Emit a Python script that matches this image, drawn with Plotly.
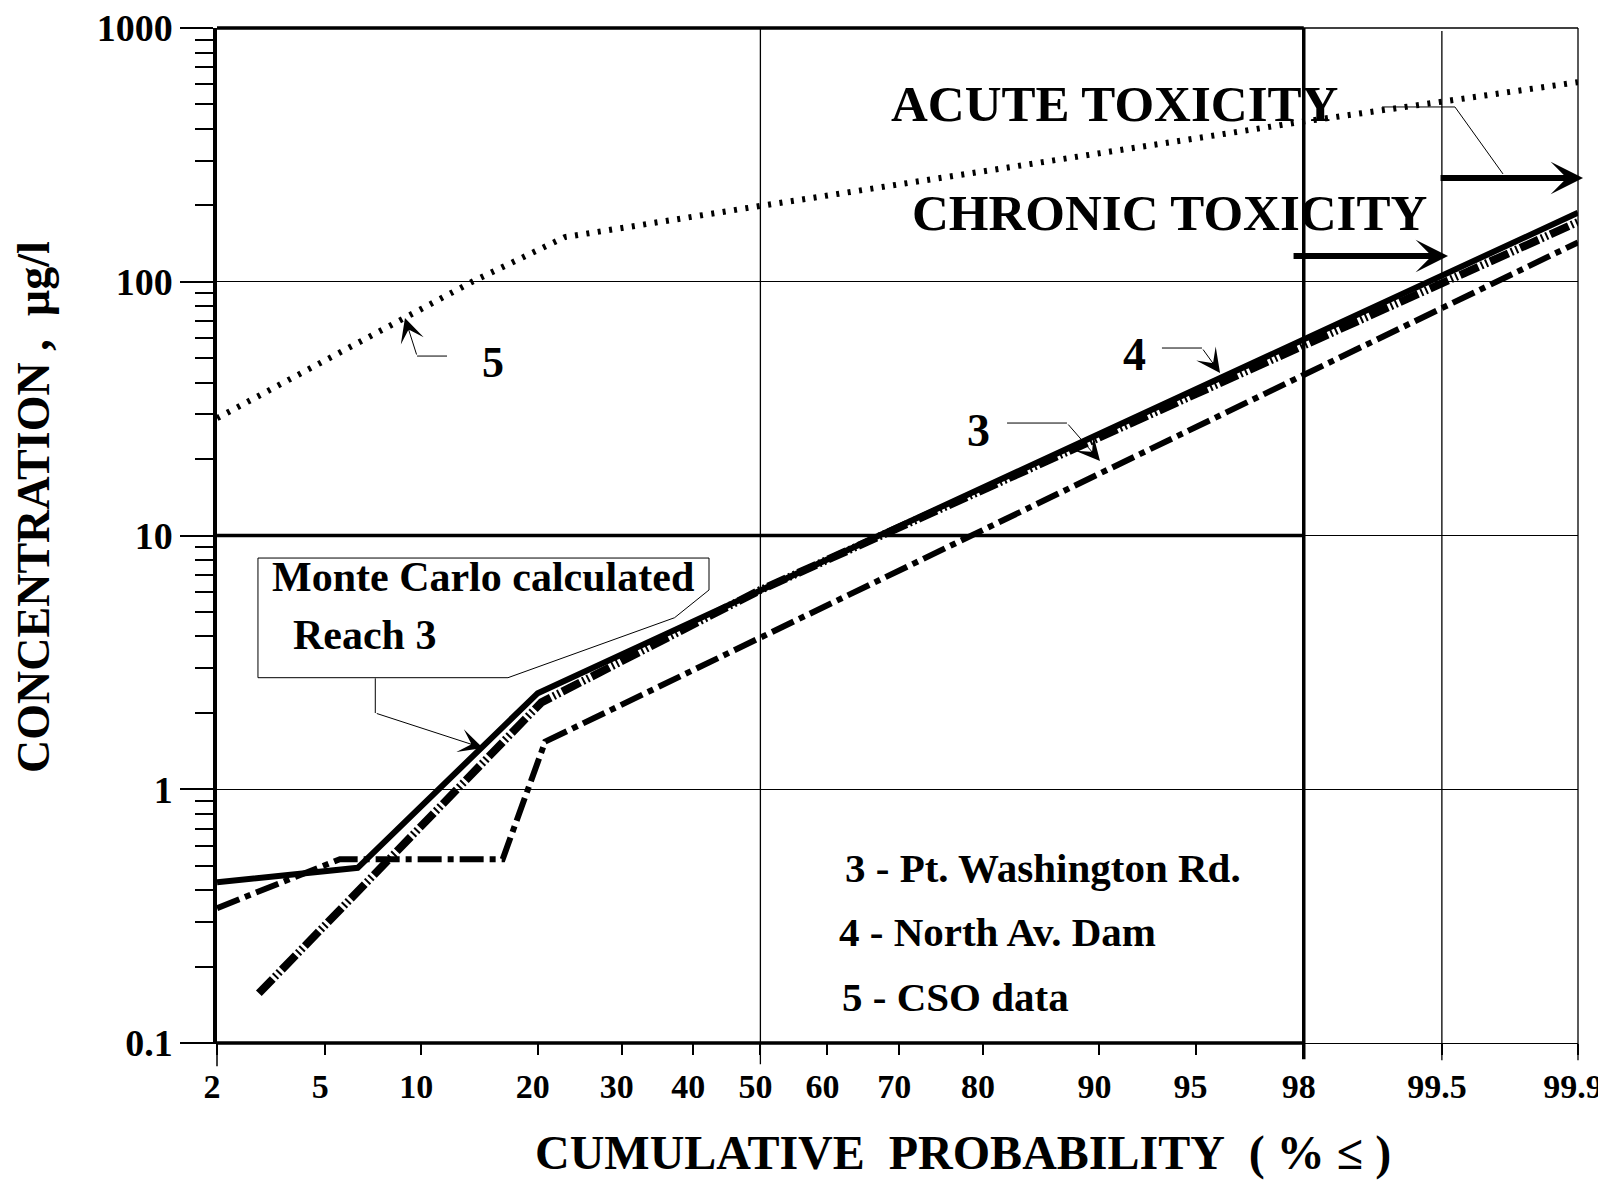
import math
from statistics import NormalDist
import plotly.graph_objects as go

# ---------------- data ----------------
# cumulative probability (%) and concentration (ug/l)
prob_mc = [2, 6.4, 20, 99.9]            # Monte Carlo calculated, Reach 3 (solid)
conc_mc = [0.43, 0.49, 2.39, 187]

prob_s3 = [2, 5.6, 16.5, 20.8, 99.9]    # 3 - Pt. Washington Rd. (dash-dot)
conc_s3 = [0.34, 0.53, 0.53, 1.54, 143]

prob_s4 = [2.9, 20.4, 50, 99.9]         # 4 - North Av. Dam (dash-dot-dot)
conc_s4 = [0.157, 2.2, 6.1, 172]

prob_s5 = [2, 13.8, 23, 50, 98, 99.9]   # 5 - CSO data (dotted)
conc_s5 = [29, 100, 150, 199, 428, 612]

x_tick_probs = [2, 5, 10, 20, 30, 40, 50, 60, 70, 80, 90, 95, 98, 99.5, 99.9]
x_tick_text = ["2", "5", "10", "20", "30", "40", "50", "60", "70", "80", "90", "95", "98", "99.5", "99.9"]
y_tick_vals = [0.1, 1, 10, 100, 1000]
y_tick_text = ["0.1", "1", "10", "100", "1000"]
y_minor_vals = [m * d for d in (0.1, 1, 10, 100) for m in range(2, 10)]

legend_lines = ["3 - Pt. Washington Rd.", "4 - North Av. Dam", "5 - CSO data"]

# ---------------- probability scale ----------------
ND = NormalDist()


def z(p):
    return ND.inv_cdf(p / 100.0)


FONT = "Liberation Serif, Times New Roman, serif"
BLACK = "black"

fig = go.Figure()

fig.add_trace(go.Scatter(x=[z(p) for p in prob_s5], y=conc_s5, mode="lines",
                         line=dict(color=BLACK, width=6, dash="3px,8.5px"),
                         hoverinfo="skip", showlegend=False))
fig.add_trace(go.Scatter(x=[z(p) for p in prob_s3], y=conc_s3, mode="lines",
                         line=dict(color=BLACK, width=6, dash="24px,6px,6px,6px"),
                         hoverinfo="skip", showlegend=False))
fig.add_trace(go.Scatter(x=[z(p) for p in prob_s4], y=conc_s4, mode="lines",
                         line=dict(color=BLACK, width=8, dash="20px,3px,2px,3px,2px,3px"),
                         hoverinfo="skip", showlegend=False))
fig.add_trace(go.Scatter(x=[z(p) for p in prob_mc], y=conc_mc, mode="lines",
                         line=dict(color=BLACK, width=6),
                         hoverinfo="skip", showlegend=False))

THIN = 1.3
THICK = 3.5

shapes = []
# thin frame parts (top and right)
shapes.append(dict(type="line", xref="paper", yref="paper", x0=0, x1=1, y0=1, y1=1,
                   line=dict(color=BLACK, width=THIN)))
shapes.append(dict(type="line", xref="paper", yref="paper", x0=1, x1=1, y0=-0.017, y1=1,
                   line=dict(color=BLACK, width=THIN)))
# thick box 2..98 (top, bottom, 10-line)
for yy in (1, 0):
    shapes.append(dict(type="line", xref="x", yref="paper", x0=z(2), x1=z(98), y0=yy, y1=yy,
                       line=dict(color=BLACK, width=THICK)))
shapes.append(dict(type="line", xref="x", yref="y", x0=z(2), x1=z(98), y0=10, y1=10,
                   line=dict(color=BLACK, width=THICK)))
# vertical grid lines
shapes.append(dict(type="line", xref="x", yref="paper", x0=z(98), x1=z(98), y0=-0.016, y1=1,
                   line=dict(color=BLACK, width=THICK)))
shapes.append(dict(type="line", xref="x", yref="paper", x0=z(50), x1=z(50), y0=-0.021, y1=1,
                   line=dict(color=BLACK, width=THIN)))
shapes.append(dict(type="line", xref="x", yref="paper", x0=z(99.5), x1=z(99.5), y0=-0.017, y1=0.997,
                   line=dict(color=BLACK, width=THIN)))
# long tick at 2
shapes.append(dict(type="line", xref="paper", yref="paper", x0=0, x1=0, y0=-0.023, y1=0,
                   line=dict(color=BLACK, width=1.5)))

# callout box "Monte Carlo calculated Reach 3"
shapes.append(dict(type="path", xref="paper", yref="paper",
                   path="M 0.0301 0.4778 L 0.3615 0.4778 L 0.3615 0.4463 L 0.3362 0.4190 "
                        "L 0.2138 0.3599 L 0.0301 0.3599 Z",
                   line=dict(color=BLACK, width=1), fillcolor="white"))
shapes.append(dict(type="path", xref="paper", yref="paper",
                   path="M 0.1163 0.3593 L 0.1163 0.3251",
                   line=dict(color=BLACK, width=1)))
# leader lines
shapes.append(dict(type="path", xref="paper", yref="paper",
                   path="M 0.8560 0.9222 L 0.9096 0.9222 L 0.9449 0.8562",
                   line=dict(color=BLACK, width=1)))
shapes.append(dict(type="line", xref="paper", yref="paper", x0=0.6943, x1=0.7237, y0=0.6847, y1=0.6847,
                   line=dict(color=BLACK, width=1)))
shapes.append(dict(type="line", xref="paper", yref="paper", x0=0.5805, x1=0.6245, y0=0.6108, y1=0.6108,
                   line=dict(color=BLACK, width=1)))
shapes.append(dict(type="line", xref="paper", yref="paper", x0=0.1470, x1=0.1690, y0=0.6768, y1=0.6768,
                   line=dict(color=BLACK, width=1)))

annotations = []


def text(x, y, s, size, xanchor="center", angle=0):
    annotations.append(dict(x=x, y=y, xref="paper", yref="paper", text=s, showarrow=False,
                            xanchor=xanchor, yanchor="middle", textangle=angle,
                            font=dict(family=FONT, size=size, color=BLACK, weight="bold")))


def arrow(x0, y0, x1, y1, width, size, head=3):
    annotations.append(dict(x=x1, y=y1, ax=x0, ay=y0, xref="x domain", yref="y domain",
                            axref="x domain", ayref="y domain", text="", showarrow=True,
                            arrowhead=head, arrowwidth=width, arrowsize=size, arrowcolor=BLACK,
                            standoff=0))


text(0.6598, 0.9251, "ACUTE TOXICITY", 51)
text(0.7002, 0.8177, "CHRONIC TOXICITY", 51)
arrow(0.8979, 0.8522, 1.0037, 0.8522, 6, 0.9)
arrow(0.7899, 0.7754, 0.9045, 0.7754, 6, 0.9)

text(0.6745, 0.6788, "4", 46)
arrow(0.7237, 0.6847, 0.7370, 0.6601, 1, 4)
text(0.5592, 0.6039, "3", 46)
arrow(0.6245, 0.6108, 0.6488, 0.5734, 1, 4)
text(0.2028, 0.6709, "5", 44)
arrow(0.1470, 0.6768, 0.1381, 0.7143, 1, 4)

text(0.1955, 0.4594, "Monte Carlo calculated", 42)
text(0.1085, 0.4015, "Reach 3", 42)
arrow(0.1163, 0.3251, 0.1954, 0.2906, 1, 4)

for (yy, xx), s in zip(((0.1729, 0.4600), (0.1089, 0.4553), (0.0456, 0.4577)), legend_lines):
    text(xx, yy, s, 41, xanchor="left")

text(0.5481, -0.1080, "CUMULATIVE&nbsp; PROBABILITY&nbsp; ( % ≤ )", 48)
text(-0.1345, 0.5281, "CONCENTRATION ,&nbsp; µg/l", 46, angle=-90)

# the page body has an 8px margin: the figure is sized to fit inside the window
fig.update_layout(
    width=1598, height=1177,
    margin=dict(l=209, r=28, t=20, b=142, autoexpand=False),
    paper_bgcolor="white", plot_bgcolor="white",
    showlegend=False,
    shapes=shapes, annotations=annotations,
    xaxis=dict(range=[z(2) - 1e-4, z(99.9) + 1e-4], tickmode="array", automargin=False,
               tickvals=[z(p) for p in x_tick_probs], ticktext=x_tick_text,
               showgrid=False, zeroline=False, showline=True, linecolor=BLACK, linewidth=THIN,
               ticks="outside", ticklen=11, tickwidth=1.5, tickcolor=BLACK,
               ticklabelstandoff=2, ticklabelshift=-5, ticklabeloverflow="allow",
               tickfont=dict(family=FONT, size=34, color=BLACK, weight="bold")),
    yaxis=dict(type="log", range=[-1.0001, 3.0001], tickmode="array", automargin=False,
               tickvals=y_tick_vals, ticktext=y_tick_text,
               showgrid=True, gridcolor=BLACK, gridwidth=THIN, zeroline=False,
               showline=True, linecolor=BLACK, linewidth=THICK,
               ticks="outside", ticklen=33, tickwidth=1.5, tickcolor=BLACK,
               ticklabelstandoff=0, ticklabeloverflow="allow",
               minor=dict(tickmode="array", tickvals=y_minor_vals, ticks="outside",
                          ticklen=18, tickwidth=1.5, tickcolor=BLACK, showgrid=False),
               tickfont=dict(family=FONT, size=38, color=BLACK, weight="bold")),
)

fig.write_html("out.html")
